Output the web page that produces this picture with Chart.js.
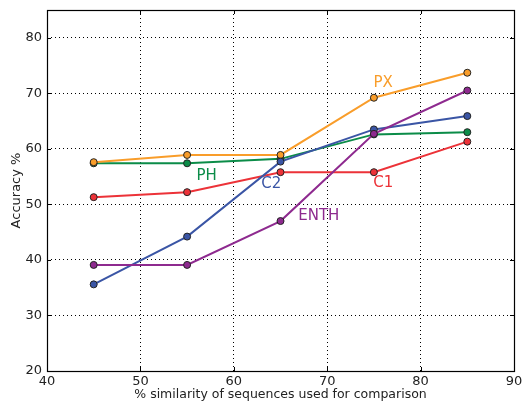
<!DOCTYPE html>
<html>
<head>
<meta charset="utf-8">
<script src="https://cdn.jsdelivr.net/npm/chart.js@4.4.1/dist/chart.umd.min.js"></script>
<style>
html,body{margin:0;padding:0;background:#fff;}
#wrap{width:523px;height:402px;position:relative;}
</style>
</head>
<body>
<div id="wrap"><canvas id="c" width="523" height="402"></canvas></div>
<script>
const similarity = [45, 55, 65, 75, 85];
const seriesNames = ['PX', 'PH', 'C1', 'C2', 'ENTH'];
const pxValues   = [57.6, 58.9, 58.9, 69.2, 73.7];
const phValues   = [57.4, 57.4, 58.2, 62.6, 63.0];
const c1Values   = [51.3, 52.2, 55.8, 55.8, 61.3];
const c2Values   = [35.6, 44.2, 57.7, 63.5, 65.9];
const enthValues = [39.1, 39.1, 47.0, 62.7, 70.5];
const seriesColors = ['#f99d2a', '#0b8c48', '#ec3238', '#3a55a5', '#8e2a8f'];
const xTicks = [40, 50, 60, 70, 80, 90];
const yTicks = [20, 30, 40, 50, 60, 70, 80];
// label anchor positions in data coordinates
const labelX = [76.0, 57.1, 76.0, 64.0, 69.1];
const labelY = [71.8, 55.1, 53.8, 53.6, 47.9];

const allValues = [pxValues, phValues, c1Values, c2Values, enthValues];
const drawOrder = [3, 4, 5, 2, 1];

const datasets = seriesNames.map((name, i) => ({
  label: name,
  data: similarity.map((x, j) => ({x: x, y: allValues[i][j]})),
  borderColor: seriesColors[i],
  backgroundColor: seriesColors[i],
  pointBackgroundColor: seriesColors[i],
  pointBorderColor: '#222',
  pointBorderWidth: 1,
  pointRadius: 3.5,
  borderWidth: 2,
  tension: 0,
  order: drawOrder[i]
}));

const FONT = "'DejaVu Sans', sans-serif";

const decor = {
  id: 'decor',
  afterDatasetsDraw(chart) {
    const ctx = chart.ctx;
    const a = chart.chartArea;
    const xs = chart.scales.x, ys = chart.scales.y;
    ctx.save();
    ctx.strokeStyle = '#000';
    ctx.lineWidth = 1;
    ctx.beginPath();
    xTicks.forEach(v => {
      const p = Math.round(xs.getPixelForValue(v)) + 0.5;
      ctx.moveTo(p, a.bottom); ctx.lineTo(p, a.bottom - 4);
      ctx.moveTo(p, a.top); ctx.lineTo(p, a.top + 4);
    });
    yTicks.forEach(v => {
      const p = Math.round(ys.getPixelForValue(v)) + 0.5;
      ctx.moveTo(a.left, p); ctx.lineTo(a.left + 4, p);
      ctx.moveTo(a.right, p); ctx.lineTo(a.right - 4, p);
    });
    ctx.stroke();
    ctx.lineWidth = 1.2;
    ctx.strokeRect(Math.round(a.left) + 0.5, Math.round(a.top) + 0.5,
                   Math.round(a.right - a.left), Math.round(a.bottom - a.top));
    ctx.font = '15px ' + FONT;
    ctx.textAlign = 'center';
    ctx.textBaseline = 'middle';
    seriesNames.forEach((name, i) => {
      ctx.fillStyle = seriesColors[i];
      ctx.fillText(name, xs.getPixelForValue(labelX[i]), ys.getPixelForValue(labelY[i]));
    });
    ctx.restore();
  }
};

new Chart(document.getElementById('c'), {
  type: 'line',
  data: { datasets: datasets },
  plugins: [decor],
  options: {
    responsive: false,
    animation: false,
    devicePixelRatio: 1,
    layout: { autoPadding: false, padding: { top: 10, right: 9, left: 0, bottom: 0 } },
    plugins: { legend: { display: false }, tooltip: { enabled: false } },
    scales: {
      x: {
        type: 'linear',
        min: 40, max: 90,
        afterBuildTicks: s => { s.ticks = xTicks.map(v => ({value: v})); },
        afterFit: s => { s.height = 31; s.paddingLeft = 0; s.paddingRight = 0; },
        grid: { color: '#000', lineWidth: 1, drawTicks: false },
        border: { display: false, dash: [1, 3] },
        ticks: { color: '#222', font: { family: FONT, size: 13 }, padding: 3, maxRotation: 0 },
        title: { display: true, text: '% similarity of sequences used for comparison', color: '#222',
                 font: { family: FONT, size: 12.5 }, padding: { top: 2, bottom: 0 } }
      },
      y: {
        type: 'linear',
        min: 20, max: 85,
        afterBuildTicks: s => { s.ticks = yTicks.map(v => ({value: v})); },
        afterFit: s => { s.width = 47; s.paddingTop = 0; s.paddingBottom = 0; },
        grid: { color: '#000', lineWidth: 1, drawTicks: false },
        border: { display: false, dash: [1, 3] },
        ticks: { color: '#222', font: { family: FONT, size: 13 }, padding: 5 },
        title: { display: true, text: 'Accuracy %', color: '#222',
                 font: { family: FONT, size: 13 }, padding: { top: 9, bottom: 1 } }
      }
    }
  }
});
</script>
</body>
</html>
